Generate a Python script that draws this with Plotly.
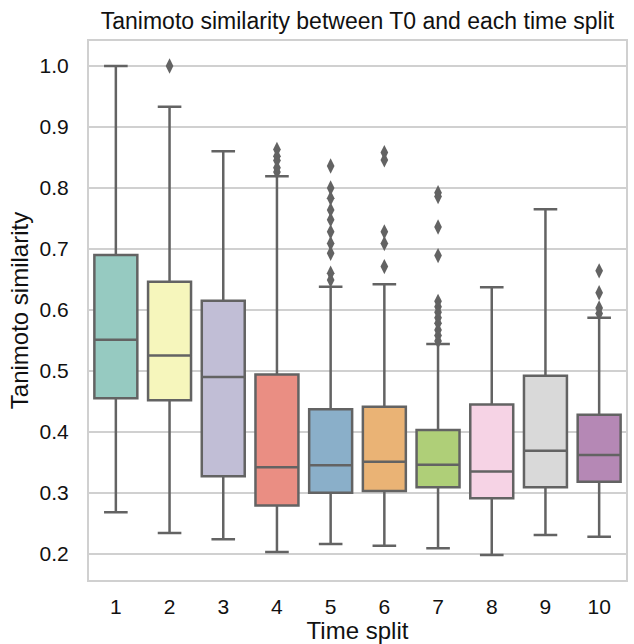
import colorsys
import plotly.graph_objects as go

categories = ["1", "2", "3", "4", "5", "6", "7", "8", "9", "10"]
q1 = [0.455, 0.452, 0.327, 0.279, 0.300, 0.303, 0.309, 0.291, 0.309, 0.318]
median = [0.551, 0.525, 0.490, 0.342, 0.345, 0.351, 0.346, 0.335, 0.369, 0.362]
q3 = [0.690, 0.646, 0.615, 0.494, 0.437, 0.441, 0.403, 0.445, 0.492, 0.428]
lower = [0.268, 0.234, 0.224, 0.203, 0.216, 0.213, 0.209, 0.198, 0.231, 0.228]
upper = [1.000, 0.933, 0.860, 0.819, 0.638, 0.642, 0.544, 0.637, 0.765, 0.587]

outliers = {
    "2": [1.0],
    "4": [0.826, 0.833, 0.845, 0.852, 0.863],
    "5": [0.836, 0.800, 0.783, 0.764, 0.748, 0.728, 0.709, 0.693, 0.660, 0.649],
    "6": [0.858, 0.846, 0.728, 0.709, 0.671],
    "7": [0.792, 0.786, 0.736, 0.689, 0.614, 0.605, 0.596, 0.587, 0.578,
          0.567, 0.558, 0.549],
    "10": [0.664, 0.628, 0.603, 0.594],
}

set3 = ["#8dd3c7", "#ffffb3", "#bebada", "#fb8072", "#80b1d3",
        "#fdb462", "#b3de69", "#fccde5", "#d9d9d9", "#bc80bd"]


def desat(hexc, prop=0.75):
    r, g, b = (int(hexc[i:i + 2], 16) / 255 for i in (1, 3, 5))
    h, l, s = colorsys.rgb_to_hls(r, g, b)
    r, g, b = colorsys.hls_to_rgb(h, l, s * prop)
    return "#%02x%02x%02x" % (round(r * 255), round(g * 255), round(b * 255))


line_col = "#636363"
fig = go.Figure()
for i, c in enumerate(categories):
    fig.add_trace(go.Box(
        x=[c], q1=[q1[i]], median=[median[i]], q3=[q3[i]],
        lowerfence=[lower[i]], upperfence=[upper[i]],
        fillcolor=desat(set3[i]), line=dict(color=line_col, width=2.5),
        width=0.8, whiskerwidth=0.55, boxpoints=False, showlegend=False,
        hoverinfo="y",
    ))
for c, vals in outliers.items():
    fig.add_trace(go.Scatter(
        x=[c] * len(vals), y=vals, mode="markers",
        marker=dict(symbol="diamond-tall", size=11, color=line_col,
                    line=dict(width=0)),
        showlegend=False,
    ))

fig.update_layout(
    width=634, height=644,
    margin=dict(l=89, r=6, t=41, b=64),
    paper_bgcolor="white", plot_bgcolor="white",
    font=dict(family="Liberation Sans, Arial, sans-serif", size=21, color="#111111"),
    title=dict(text="Tanimoto similarity between T0 and each time split",
               x=0.5, xref="paper", xanchor="center", y=0.968, yanchor="middle",
               font=dict(size=23, color="#111111")),
    boxmode="overlay",
)
fig.update_xaxes(
    type="category", categoryorder="array", categoryarray=categories,
    range=[-0.5, 9.5], showgrid=False, zeroline=False,
    showline=True, mirror=True, linecolor="#d0d0d0", linewidth=2,
    ticks="", ticklabelstandoff=7,
    title=dict(text="Time split", font=dict(size=24), standoff=2),
)
fig.update_yaxes(
    range=[0.157, 1.041], tickvals=[0.2, 0.3, 0.4, 0.5, 0.6, 0.7, 0.8, 0.9, 1.0],
    tickformat=".1f", showgrid=True, gridcolor="#d0d0d0", gridwidth=1.5,
    zeroline=False, showline=True, mirror=True, linecolor="#d0d0d0", linewidth=2,
    ticks="", ticklabelstandoff=14,
    title=dict(text="Tanimoto similarity", font=dict(size=24), standoff=4),
)

fig.write_html("out.html")
